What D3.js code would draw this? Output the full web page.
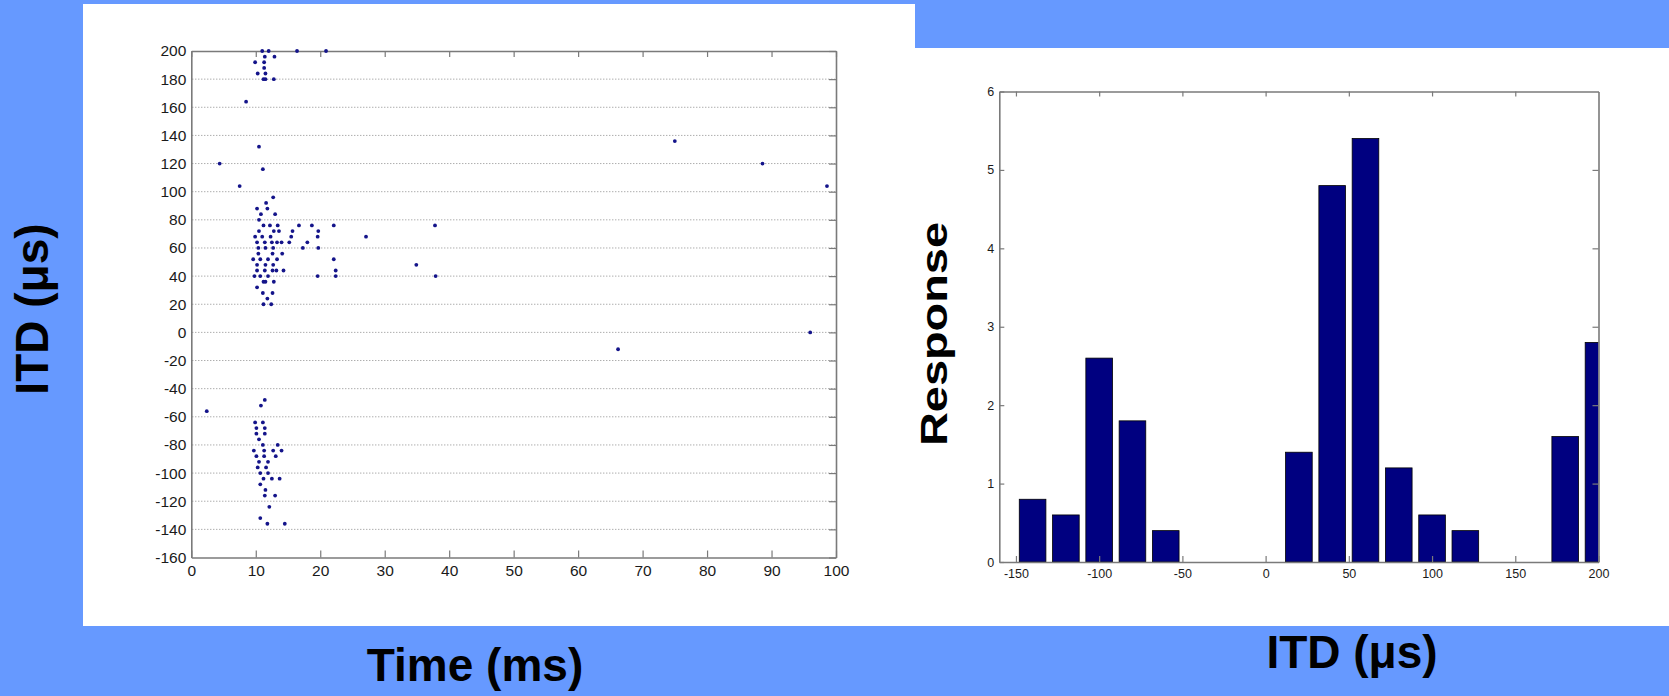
<!DOCTYPE html>
<html>
<head>
<meta charset="utf-8">
<script src="https://cdn.jsdelivr.net/npm/d3@7"></script>
<style>
html,body{margin:0;padding:0;background:#6699ff;}
svg{display:block;}
</style>
</head>
<body>
<svg id="chart" width="1669" height="696"></svg>
<script>
// ---- Data: scatter (Time ms, ITD µs) ----
const scatterTime = [
  11.0,12.0,16.4,20.9, 9.9,11.4,12.9,11.3,11.3,10.3,11.5,11.2,11.5,12.8, 8.5,10.5,11.1, 4.4, 7.5,
  12.7,11.6,10.2,11.8,10.8,13.0,10.5,
  11.2,12.2,13.4,16.7,18.7,22.1,37.8,
  10.5,12.8,13.6,15.7,19.7,
   9.9,11.0,12.3,15.5,19.6,27.1,
  10.2,11.4,12.5,13.3,14.0,15.2,18.0,
  10.4,11.5,12.7,17.3,19.7,
  10.4,12.6,14.1,
   9.6,10.7,11.9,13.3,22.1,
  10.2,11.5,12.7,34.9,
  10.2,11.4,12.6,13.2,14.3,22.4,
   9.8,10.7,11.9,19.6,22.4,37.9,
  11.2,11.5,12.8,10.2,11.1,12.6,11.8,11.2,12.4,
  75.0,88.6,98.6,96.0,66.2,
   2.4,11.4,10.8, 9.9,11.1,10.1,11.4,10.1,11.4,10.5,11.1,13.4,
   9.7,11.3,12.7,14.0,10.1,11.3,13.1,10.5,11.9,10.3,11.6,10.7,11.9,
  11.2,12.5,13.7,10.7,11.5,11.4,13.0,12.1,10.7,11.8,14.5
];
const scatterITD = [
  200,200,200,200,192,196,196,192,188,184,184,180,180,180,164,132,116,120,104,
   96, 92, 88, 88, 84, 84, 80,
   76, 76, 76, 76, 76, 76, 76,
   72, 72, 72, 72, 72,
   68, 68, 68, 68, 68, 68,
   64, 64, 64, 64, 64, 64, 64,
   60, 60, 60, 60, 60,
   56, 56, 56,
   52, 52, 52, 52, 52,
   48, 48, 48, 48,
   44, 44, 44, 44, 44, 44,
   40, 40, 40, 40, 40, 40,
   36, 36, 36, 32, 28, 28, 24, 20, 20,
  136,120,104,  0,-12,
  -56,-48,-52,-64,-64,-68,-68,-72,-72,-76,-80,-80,
  -84,-84,-84,-84,-88,-88,-88,-92,-92,-96,-96,-100,-100,
  -104,-104,-104,-108,-112,-116,-116,-124,-132,-136,-136
];
const scatterXTicks = [0,10,20,30,40,50,60,70,80,90,100];
const scatterYTicks = [-160,-140,-120,-100,-80,-60,-40,-20,0,20,40,60,80,100,120,140,160,180,200];

// ---- Data: histogram (ITD bin centre µs, response) ----
const histITD = [-140,-120,-100,-80,-60,-40,-20,0,20,40,60,80,100,120,140,160,180,200];
const histResponse = [0.8,0.6,2.6,1.8,0.4,0,0,0,1.4,4.8,5.4,1.2,0.6,0.4,0,0,1.6,2.8];
const histXTicks = [-150,-100,-50,0,50,100,150,200];
const histYTicks = [0,1,2,3,4,5,6];

const svg = d3.select("#chart");
const FONT = "'Liberation Sans', Arial, Helvetica, sans-serif";
const AXIS = "#7a7a7a";
const fmt = d => String(d);

// background
svg.append("rect").attr("width",1669).attr("height",696).attr("fill","#6699ff");
svg.append("path")
  .attr("d","M83,4 H915 V48 H1669 V626 H83 Z")
  .attr("fill","#ffffff");

// ---------------- Left: scatter ----------------
const xL = d3.scaleLinear().domain([0,100]).range([191.3,836]);
const yL = d3.scaleLinear().domain([-160,200]).range([557.5,51]);
const gL = svg.append("g");

// dotted grid
gL.append("g").selectAll("line")
  .data(scatterYTicks.filter(v => v > -160 && v < 200))
  .join("line")
  .attr("x1", xL(0)+1).attr("x2", xL(100)-1)
  .attr("y1", d => yL(d)).attr("y2", d => yL(d))
  .attr("stroke","#8a8a8a").attr("stroke-width",1)
  .attr("stroke-dasharray","1,2");

function styleAxis(g, fs){
  g.selectAll(".domain").attr("stroke",AXIS).attr("stroke-width",1.6);
  g.selectAll(".tick line").attr("stroke",AXIS).attr("stroke-width",1.2);
  g.selectAll(".tick text").attr("fill","#1a1a1a")
    .style("font-family",FONT).style("font-size",fs+"px");
}

const axB = gL.append("g").attr("transform",`translate(0,${yL(-160)})`)
  .call(d3.axisBottom(xL).tickValues(scatterXTicks).tickSizeInner(-7).tickSizeOuter(0).tickPadding(7).tickFormat(fmt));
styleAxis(axB,15.5);
const axT = gL.append("g").attr("transform",`translate(0,${yL(200)})`)
  .call(d3.axisTop(xL).tickValues(scatterXTicks).tickSizeInner(-6).tickSizeOuter(0).tickFormat(""));
styleAxis(axT,15.5);
const axLft = gL.append("g").attr("transform",`translate(${xL(0)},0)`)
  .call(d3.axisLeft(yL).tickValues(scatterYTicks).tickSizeInner(0).tickSizeOuter(0).tickPadding(5).tickFormat(fmt));
styleAxis(axLft,15.5);
const axR = gL.append("g").attr("transform",`translate(${xL(100)},0)`)
  .call(d3.axisRight(yL).tickValues(scatterYTicks).tickSizeInner(-7).tickSizeOuter(0).tickFormat(""));
styleAxis(axR,15.5);

gL.append("g").selectAll("circle")
  .data(d3.range(scatterTime.length))
  .join("circle")
  .attr("cx", i => xL(scatterTime[i]))
  .attr("cy", i => yL(scatterITD[i]))
  .attr("r", 1.9)
  .attr("fill","#14148a");

// ---------------- Right: histogram ----------------
const xR = d3.scaleLinear().domain([-160,200]).range([999.3,1598.5]);
const yR = d3.scaleLinear().domain([0,6]).range([562,91.5]);
const gR = svg.append("g");

svg.append("clipPath").attr("id","clipR")
  .append("rect").attr("x",xR(-160)).attr("y",yR(6)).attr("width",xR(200)-xR(-160)).attr("height",yR(0)-yR(6));

gR.append("g").attr("clip-path","url(#clipR)").selectAll("rect")
  .data(d3.range(histITD.length).filter(i => histResponse[i] > 0))
  .join("rect")
  .attr("x", i => xR(histITD[i]-8))
  .attr("width", i => xR(histITD[i]+8) - xR(histITD[i]-8))
  .attr("y", i => yR(histResponse[i]))
  .attr("height", i => yR(0) - yR(histResponse[i]))
  .attr("fill","#000080").attr("stroke","#000000").attr("stroke-width",0.8);

const rB = gR.append("g").attr("transform",`translate(0,${yR(0)})`)
  .call(d3.axisBottom(xR).tickValues(histXTicks).tickSizeInner(-6).tickSizeOuter(0).tickPadding(7).tickFormat(fmt));
styleAxis(rB,12.5);
const rT = gR.append("g").attr("transform",`translate(0,${yR(6)})`)
  .call(d3.axisTop(xR).tickValues(histXTicks.slice(0,-1)).tickSizeInner(-5).tickSizeOuter(0).tickFormat(""));
styleAxis(rT,12.5);
const rL = gR.append("g").attr("transform",`translate(${xR(-160)},0)`)
  .call(d3.axisLeft(yR).tickValues(histYTicks).tickSizeInner(-5).tickSizeOuter(0).tickPadding(5).tickFormat(fmt));
styleAxis(rL,12.5);
const rR = gR.append("g").attr("transform",`translate(${xR(200)},0)`)
  .call(d3.axisRight(yR).tickValues(histYTicks.slice(1,-1)).tickSizeInner(-6).tickSizeOuter(0).tickFormat(""));
styleAxis(rR,12.5);

// ---------------- Axis titles ----------------
svg.append("text")
  .attr("transform","translate(47.5,309) rotate(-90)")
  .attr("text-anchor","middle")
  .style("font-family",FONT).style("font-weight","bold").style("font-size","46px")
  .attr("fill","#000").text("ITD (\u03bcs)");

svg.append("text")
  .attr("x",475).attr("y",681)
  .attr("text-anchor","middle")
  .style("font-family",FONT).style("font-weight","bold").style("font-size","46px")
  .attr("fill","#000").text("Time (ms)");

svg.append("text")
  .attr("x",1352).attr("y",668)
  .attr("text-anchor","middle")
  .style("font-family",FONT).style("font-weight","bold").style("font-size","46px")
  .attr("fill","#000").text("ITD (\u03bcs)");

svg.append("text")
  .attr("transform","translate(947,446) rotate(-90)")
  .attr("text-anchor","start")
  .attr("textLength",224).attr("lengthAdjust","spacingAndGlyphs")
  .style("font-family",FONT).style("font-weight","bold").style("font-size","37px")
  .attr("fill","#000").text("Response");
</script>
</body>
</html>
